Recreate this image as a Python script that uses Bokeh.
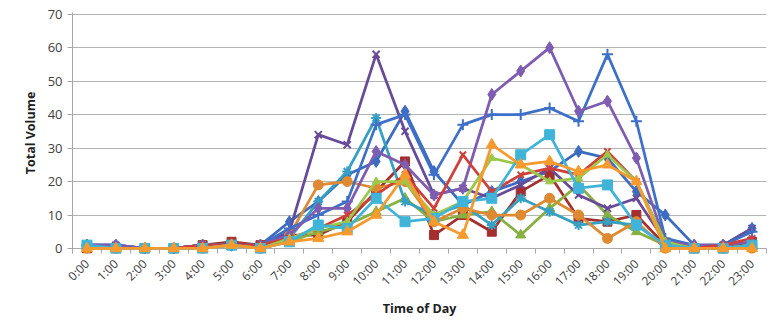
import math
from bokeh.plotting import figure
from bokeh.models import Range1d, FixedTicker, Span
from bokeh.embed import file_html
from bokeh.resources import INLINE

# Hourly volumes per count location
hours = list(range(24))
hour_labels = [f"{h}:00" for h in hours]

blue_diamond = [1, 1, 0, 0, 1, 1, 1, 8, 14, 22, 26, 41, 23, 13, 17, 20, 23, 29, 27, 17, 10, 1, 1, 6]
red_square = [0, 0, 0, 0, 1, 2, 1, 4, 4, 8, 17, 26, 4, 10, 5, 17, 22, 9, 8, 10, 1, 0, 0, 2]
green_triangle = [0, 0, 0, 0, 0, 1, 0, 2, 5, 7, 11, 15, 8, 10, 11, 4, 12, 19, 10, 5, 1, 0, 0, 1]
purple_x = [1, 1, 0, 0, 1, 1, 1, 5, 34, 31, 58, 35, 16, 18, 15, 19, 24, 16, 12, 15, 2, 0, 1, 6]
teal_star = [1, 0, 0, 0, 1, 1, 0, 3, 14, 23, 39, 14, 10, 13, 7, 15, 11, 7, 8, 7, 1, 0, 0, 1]
orange_circle = [0, 0, 0, 0, 0, 1, 0, 4, 19, 20, 18, 20, 8, 12, 10, 10, 15, 10, 3, 8, 0, 0, 0, 0]
blue_plus = [1, 1, 0, 0, 1, 1, 1, 6, 10, 14, 37, 40, 22, 37, 40, 40, 42, 38, 58, 38, 3, 1, 1, 5]
purple_diamond = [1, 1, 0, 0, 1, 1, 1, 4, 12, 12, 29, 25, 16, 18, 46, 53, 60, 41, 44, 27, 2, 1, 1, 2]
red_x = [0, 0, 0, 0, 1, 1, 1, 3, 6, 10, 16, 22, 12, 28, 17, 22, 24, 22, 29, 20, 2, 0, 1, 3]
lime_green = [0, 0, 0, 0, 0, 1, 0, 3, 6, 8, 20, 20, 10, 14, 27, 25, 20, 21, 28, 20, 2, 0, 0, 1]
cyan_square = [1, 0, 0, 0, 0, 1, 0, 2, 7, 6, 15, 8, 9, 14, 15, 28, 34, 18, 19, 7, 1, 0, 0, 1]
orange_triangle = [0, 0, 0, 0, 0, 1, 0, 2, 3, 5, 10, 22, 8, 4, 31, 25, 26, 23, 25, 20, 0, 0, 0, 0]

series = [
    (blue_diamond, "#3B6CC0", "diamond", 12),
    (red_square, "#A3302E", "square", 9),
    (green_triangle, "#86B042", "triangle", 10),
    (purple_x, "#684B98", "x", 10),
    (teal_star, "#35A0C2", "asterisk", 10),
    (orange_circle, "#DE8A32", "circle", 10),
    (blue_plus, "#3F70C8", "cross", 11),
    (purple_diamond, "#7E5CB0", "diamond", 12),
    (red_x, "#D0403A", "x", 9),
    (lime_green, "#9CC84A", "triangle", 8),
    (cyan_square, "#3FB4D8", "square", 10),
    (orange_triangle, "#F79A2E", "triangle", 11),
]

p = figure(width=772, height=322, output_backend="svg", toolbar_location=None,
           x_range=Range1d(-0.5, 23.5), y_range=Range1d(-1.5, 70.5),
           min_border_left=72, min_border_right=6, min_border_top=12, min_border_bottom=69)
p.outline_line_color = None
p.background_fill_color = "white"
p.border_fill_color = "white"

for vals, color, marker, size in series:
    p.line(hours, vals, line_color=color, line_width=2.75)
    line_marker = marker in ("x", "asterisk", "cross")
    p.scatter(hours, vals, marker=marker, size=size, line_color=color,
              fill_color=color, line_width=2 if line_marker else 1)

# y axis
p.yaxis.ticker = FixedTicker(ticks=list(range(0, 71, 10)))
p.yaxis.axis_line_color = "#A6A6A6"
p.yaxis.major_tick_line_color = "#A6A6A6"
p.yaxis.major_tick_out = 5
p.yaxis.major_tick_in = 0
p.yaxis.minor_tick_line_color = None
p.yaxis.major_label_text_font = "Open Sans"
p.yaxis.major_label_text_font_size = "13px"
p.yaxis.major_label_text_color = "#404040"
p.yaxis.axis_label = "Total Volume"
p.yaxis.axis_label_text_font = "Open Sans"
p.yaxis.axis_label_text_font_style = "bold"
p.yaxis.axis_label_text_font_size = "12.5px"
p.yaxis.axis_label_text_color = "#202020"
p.yaxis.axis_label_standoff = 6

p.ygrid.ticker = FixedTicker(ticks=list(range(10, 71, 10)))
p.ygrid.grid_line_color = "#B4B4B4"
p.ygrid.grid_line_width = 1
p.xgrid.grid_line_color = None

# x axis: categories at integers, tick marks between them
p.xaxis.ticker = FixedTicker(ticks=hours, minor_ticks=[h - 0.5 for h in range(25)])
p.xaxis.major_label_overrides = {h: lab for h, lab in zip(hours, hour_labels)}
p.xaxis.major_label_orientation = math.pi / 4
p.xaxis.major_tick_line_color = None
p.xaxis.axis_line_color = None
p.xaxis.minor_tick_line_color = "#A6A6A6"
p.xaxis.minor_tick_in = 5
p.xaxis.minor_tick_out = 0
p.xaxis.major_label_text_font = "Open Sans"
p.xaxis.major_label_text_font_size = "12px"
p.xaxis.major_label_text_color = "#404040"
p.xaxis.major_label_standoff = 2
p.xaxis.axis_label = "Time of Day"
p.xaxis.axis_label_text_font = "Open Sans"
p.xaxis.axis_label_text_font_style = "bold"
p.xaxis.axis_label_text_font_size = "12.5px"
p.xaxis.axis_label_text_color = "#202020"
p.xaxis.axis_label_standoff = 2

# horizontal category axis at zero
p.add_layout(Span(location=0, dimension="width", line_color="#A6A6A6", line_width=1, level="underlay"))

open("out.html", "w").write(file_html(p, INLINE))
